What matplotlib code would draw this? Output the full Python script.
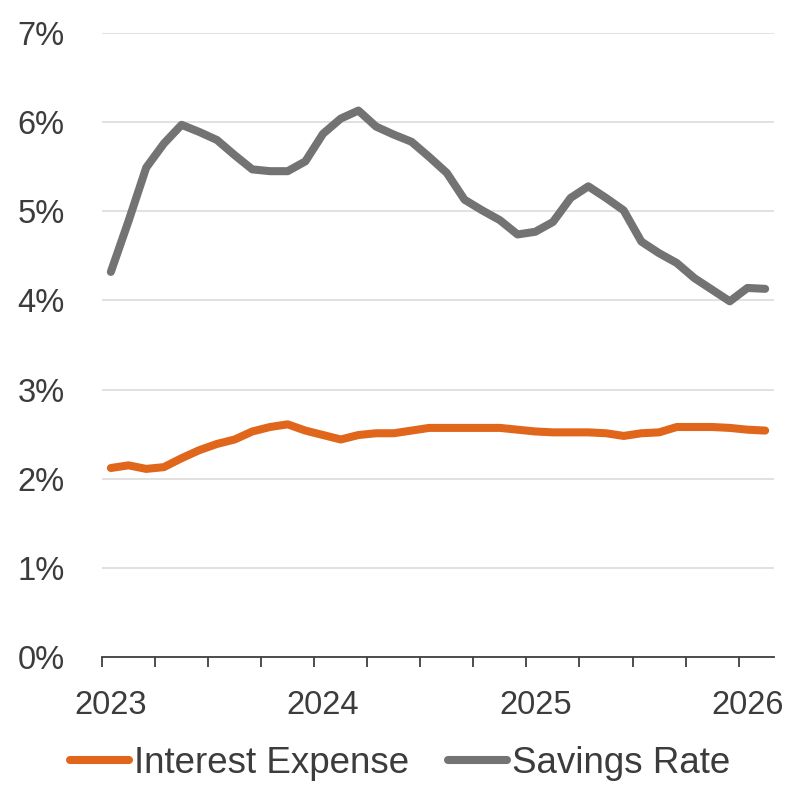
import matplotlib
matplotlib.use("Agg")
import matplotlib.pyplot as plt
import numpy as np
from matplotlib.ticker import FixedLocator, FuncFormatter

# monthly, Jan 2023 - Feb 2026 (percent)
interest_expense = [2.12, 2.15, 2.11, 2.13, 2.23, 2.32, 2.39, 2.44, 2.53, 2.58,
                    2.61, 2.54, 2.49, 2.44, 2.49, 2.51, 2.51, 2.54, 2.57, 2.57,
                    2.57, 2.57, 2.57, 2.55, 2.53, 2.52, 2.52, 2.52, 2.51, 2.48,
                    2.51, 2.52, 2.58, 2.58, 2.58, 2.57, 2.55, 2.54]
savings_rate = [4.32, 4.89, 5.49, 5.76, 5.97, 5.89, 5.80, 5.63, 5.47, 5.45,
                5.45, 5.56, 5.87, 6.04, 6.13, 5.95, 5.86, 5.78, 5.61, 5.43,
                5.13, 5.01, 4.90, 4.74, 4.77, 4.88, 5.15, 5.28, 5.15, 5.01,
                4.66, 4.53, 4.42, 4.25, 4.12, 3.99, 4.14, 4.13]
year_labels = ["2023", "2024", "2025", "2026"]

orange = "#e0661c"
grey = "#737373"
text_col = "#3c3c3c"

plt.rcParams["font.family"] = ["Liberation Sans", "DejaVu Sans"]

fig = plt.figure(figsize=(7.94, 7.85), dpi=100)
ax = fig.add_axes([102 / 794, 128 / 785, 672 / 794, 624 / 785])

x = np.arange(len(savings_rate))
ax.plot(x, interest_expense, color=orange, lw=5.8, solid_capstyle="round",
        solid_joinstyle="round", label="Interest Expense", zorder=3)
ax.plot(x, savings_rate, color=grey, lw=5.8, solid_capstyle="round",
        solid_joinstyle="round", label="Savings Rate", zorder=3)

ax.set_xlim(-0.5, len(x) - 0.5)
ax.set_ylim(0, 7)

ax.set_yticks(np.arange(0, 8, 1))
ax.yaxis.set_major_formatter(FuncFormatter(lambda v, p: f"{v:.0f}%"))
ax.grid(axis="y", color="#dedede", lw=1.3, zorder=0)
ax.tick_params(axis="y", length=0, pad=27, labelsize=23.5, labelcolor=text_col)

# year labels on January, quarter tick marks between months
ax.xaxis.set_major_locator(FixedLocator([0, 12, 24, 36]))
ax.set_xticklabels(year_labels)
ax.xaxis.set_minor_locator(FixedLocator(np.arange(-0.5, 36, 3)))
ax.tick_params(axis="x", which="major", length=0, pad=23.5, labelsize=23.5,
               labelcolor=text_col)
ax.tick_params(axis="x", which="minor", length=7.5, width=1.3, color="#404040",
               direction="out")

for side in ["top", "right", "left"]:
    ax.spines[side].set_visible(False)
ax.spines["bottom"].set_color("#404040")
ax.spines["bottom"].set_linewidth(1.3)

leg = fig.legend(loc="center", bbox_to_anchor=(0.504, 0.027), ncol=2,
                 frameon=False, fontsize=26.5, handlelength=1.6,
                 handletextpad=0.15, columnspacing=1.05, borderaxespad=0)
for t in leg.get_texts():
    t.set_color(text_col)

fig.savefig("out.png", dpi=100, facecolor="white")
